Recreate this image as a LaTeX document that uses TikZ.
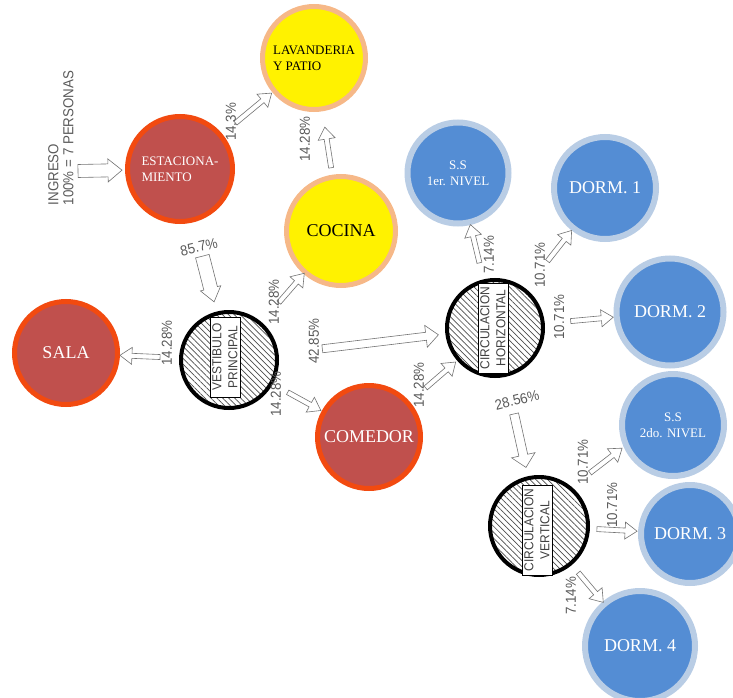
\documentclass[tikz,border=0pt]{standalone}
\usepackage{fontspec}
\setmainfont{Liberation Serif}
\newfontfamily\pctfont[FakeStretch=0.92]{Liberation Sans}
\usepackage{tikz}
\usetikzlibrary{calc,patterns.meta}

\definecolor{salared}{RGB}{192,80,77}
\definecolor{salarim}{RGB}{242,74,16}
\definecolor{cocinarim}{RGB}{246,184,136}
\definecolor{dormblue}{RGB}{84,141,212}
\definecolor{dormrim}{RGB}{185,205,229}
\definecolor{pctgray}{RGB}{90,90,90}

\tikzset{
  tailgap/.store in=\tailgap, tipgap/.store in=\tipgap,
  shaftw/.store in=\shaftw, headw/.store in=\headw, headl/.store in=\headl,
  tailgap=0pt, tipgap=0pt
}

\begin{document}
\begin{tikzpicture}[
  x=1pt, y=-1pt,
  room/.style={circle, inner sep=0pt, minimum size=#1, align=center,
    font=\fontsize{18}{20}\selectfont},
  redroom/.style={room=#1, fill=salared, draw=salarim, line width=5pt, text=white},
  yellowroom/.style={room=#1, fill=yellow, draw=cocinarim, line width=5pt, text=black},
  blueroom/.style={room=#1, fill=dormblue, draw=dormrim, line width=6pt, text=white},
  small/.style={font=\fontsize{13}{16}\selectfont},
  hall/.style={circle, minimum size=#1, inner sep=0pt, draw=black, line width=4pt,
    pattern={Lines[angle=-45, distance=4.2pt, line width=0.7pt]}, pattern color=black!70},
  hallbox/.style={rectangle, draw=black, line width=0.6pt, fill=white, rotate=90,
    minimum width=#1, minimum height=30pt, inner sep=1pt, align=center,
    text=black!75, font=\pctfont\fontsize{13}{16}\selectfont},
  pct/.style={text=pctgray, inner sep=0pt, font=\pctfont\fontsize{14.5}{15}\selectfont},
  % hollow block arrow, gaps measured from the centres of the two ends
  flow/.style={draw=black!55, line width=0.6pt, fill=white, line join=miter,
    to path={
      ($(\tikztostart)!\tailgap!(\tikztotarget)!\shaftw!90:(\tikztotarget)$) --
      ($(\tikztotarget)!\tipgap+\headl!(\tikztostart)!\shaftw!-90:(\tikztostart)$) --
      ($(\tikztotarget)!\tipgap+\headl!(\tikztostart)!\headw!-90:(\tikztostart)$) --
      ($(\tikztotarget)!\tipgap!(\tikztostart)$) --
      ($(\tikztotarget)!\tipgap+\headl!(\tikztostart)!\headw!90:(\tikztostart)$) --
      ($(\tikztotarget)!\tipgap+\headl!(\tikztostart)!\shaftw!90:(\tikztostart)$) --
      ($(\tikztostart)!\tailgap!(\tikztotarget)!\shaftw!-90:(\tikztotarget)$) -- cycle}},
  slim/.style={flow, shaftw=2.5pt, headw=8.5pt, headl=12pt},
  mid/.style={flow, shaftw=4pt, headw=11pt, headl=12.5pt},
  broad/.style={flow, shaftw=6.5pt, headw=11.5pt, headl=14pt}
]
\useasboundingbox (0,0) rectangle (733,698);

% rooms
\node[redroom=105pt, small, align=left] (est) at (180,169) {ESTACIONA-\\MIENTO};
\node[yellowroom=103pt, small, align=left] (lav) at (314,58) {LAVANDERIA\\Y PATIO};
\node[yellowroom=109pt] (coc) at (341,231) {COCINA};
\node[redroom=103pt] (sala) at (66,353) {SALA};
\node[redroom=103pt] (com) at (369,437) {COMEDOR};
\node[blueroom=101pt, small] (ssa) at (458,173) {S.S\\1er. NIVEL};
\node[blueroom=102pt, small] (ssb) at (673,425) {S.S\\2do. NIVEL};
\foreach \nm/\x/\y/\d/\t in {dorma/605/188/102/1, dormb/670/312/107/2,
                             dormc/690/534/98/3, dormd/640/646/110/4} {
  \node[blueroom=\d pt] (\nm) at (\x,\y) {DORM. \t};
}

% hatched halls
\node[hall=96pt] (vest) at (229,360) {};
\node[hallbox=80pt] (vestbox) at (225,357) {VESTIBULO\\PRINCIPAL};
\node[hall=96pt] (circh) at (495,328) {};
\node[hallbox=90pt] (circhbox) at (493,328) {CIRCULACION\\HORIZONTAL};
\node[hall=98pt] (circv) at (539,526) {};
\node[hallbox=90pt] (circvbox) at (537,530) {CIRCULACION\\VERTICAL};

% entry
\coordinate (ing) at (78,171);
\node[pct, rotate=90, align=left] (ingreso) at (61,138) {INGRESO\\100\% = 7 PERSONAS};

% flows
\draw[broad, tipgap=58pt] (ing) to (est);
\draw[slim, tailgap=72pt, tipgap=55pt] (est) to (lav);
\draw[slim, tailgap=64pt, tipgap=70pt] (coc) to (lav);
\draw[broad, shaftw=7pt, headw=10.5pt, tailgap=90pt, tipgap=60pt] (est) to (vest);
\draw[slim, tailgap=69pt, tipgap=54pt] (vest) to (sala);
\draw[slim, tailgap=76pt, tipgap=56pt] (vest) to (coc);
\draw[mid, tailgap=94pt, tipgap=57pt] (vest) to (circh);
\draw[slim, tailgap=67pt, tipgap=55pt] (vest) to (com);
\draw[slim, tailgap=75pt, tipgap=52pt] (com) to (circh);
\draw[slim, tailgap=67pt, tipgap=53pt] (circh) to (ssa);
\draw[slim, tailgap=85pt, tipgap=54pt] (circh) to (dorma);
\draw[slim, tailgap=76pt, tipgap=57pt] (circh) to (dormb);
\draw[mid, shaftw=4.5pt, headw=12pt, tailgap=88pt, tipgap=60pt] (circh) to (circv);
\draw[slim, tailgap=23pt, tipgap=2pt] (circv.50) to (ssb.204);
\draw[slim, tailgap=58pt, tipgap=53pt] (circv) to (dormc);
\draw[slim, tailgap=61pt, tipgap=57pt] (circv) to (dormd);

% percentages
\foreach \nm/\x/\y/\t in {pa/231/122/14.3, pb/305/139/14.28, pc/167/343/14.28,
    pd/274/302/14.28, pe/314/341/42.85, pf/276/394/14.28, pg/419/385/14.28,
    ph/489/255/7.14, pi/540/265/10.71, pj/559/317/10.71, pk/583/462/10.71,
    pl/612/505/10.71, pm/571/596/7.14} {
  \node[pct, rotate=90] (\nm) at (\x,\y) {\t\%};
}
\node[pct, rotate=13] (pvest) at (199,247) {85.7\%};
\node[pct, rotate=14] (pcirc) at (517,400) {28.56\%};

\end{tikzpicture}
\end{document}
